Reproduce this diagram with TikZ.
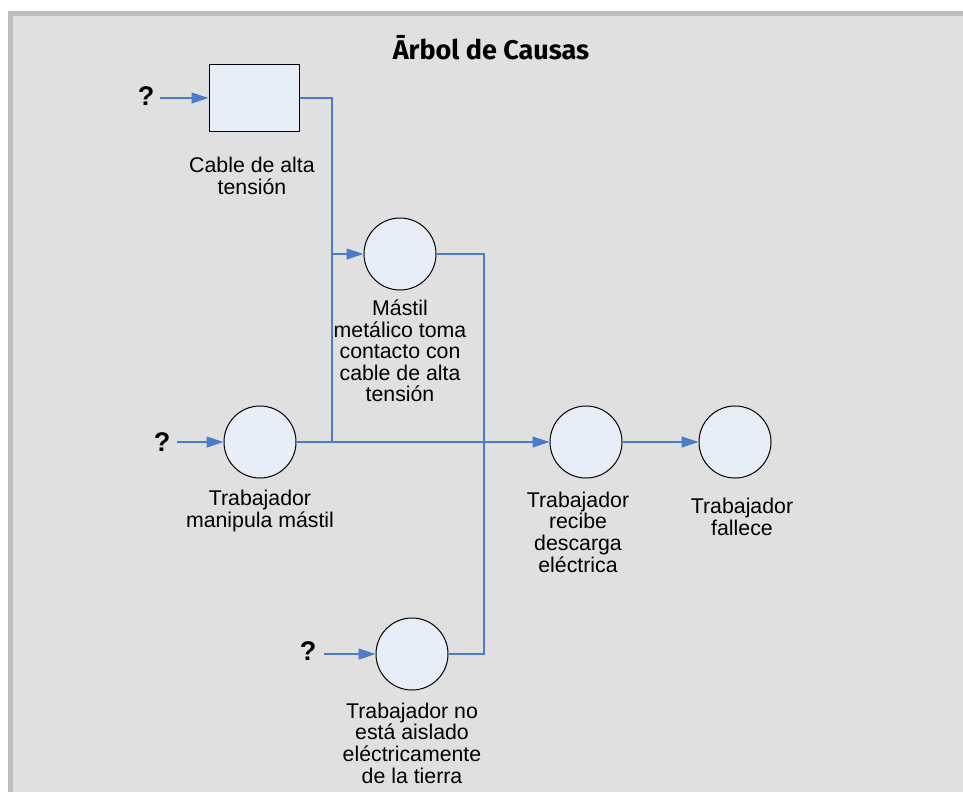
\documentclass[tikz,border=0pt]{standalone}
\usepackage{fontspec}
\setmainfont{Liberation Sans}
\newfontfamily\titlefont{Fira Sans}
\usetikzlibrary{arrows.meta}
\definecolor{bg}{HTML}{E0E0E0}
\definecolor{framegray}{HTML}{BDBDBD}
\definecolor{nodefill}{HTML}{E8EEF8}
\definecolor{conn}{HTML}{4A7CC9}
\begin{document}
\begin{tikzpicture}[x=1pt,y=-1pt,
  event/.style={circle,draw=black,line width=1pt,fill=nodefill,minimum size=72pt,inner sep=0pt},
  fact/.style={rectangle,draw=black,line width=1pt,fill=nodefill,minimum width=90pt,minimum height=66pt,inner sep=0pt},
  lbl/.style={align=center,font=\fontsize{21.3}{21.6}\selectfont,inner sep=0pt},
  qm/.style={font=\fontsize{27}{27}\bfseries\selectfont,inner sep=0pt},
  link/.style={draw=conn,line width=1.2pt},
  arr/.style={link,-{Triangle[length=17pt,width=11pt]}}]
\useasboundingbox (0,0) rectangle (963,792);
\fill[framegray] (8,11) rectangle (963,792);
\fill[bg] (13,16) rectangle (963,792);
\node[font=\titlefont\bfseries\fontsize{27}{27}\selectfont,inner sep=0pt] (title) at (491,48) {Ārbol de Causas};
% shapes
\node[fact] (cable) at (254,98) {};
\node[event] (mast) at (400,254) {};
\node[event] (man) at (260,442) {};
\node[event] (rec) at (586,442) {};
\node[event] (fal) at (735,442) {};
\node[event] (ais) at (412,654) {};
% labels
\node[lbl] (lcable) at (252,176) {Cable de alta\\tensión};
\node[lbl] (lmast) at (400,351) {Mástil\\metálico toma\\contacto con\\cable de alta\\tensión};
\node[lbl] (lman) at (260,511) {Trabajador\\manipula mástil};
\node[lbl] (lrec) at (578,532) {Trabajador\\recibe\\descarga\\eléctrica};
\node[lbl] (lfal) at (742,517) {Trabajador\\fallece};
\node[lbl] (lais) at (412,743) {Trabajador no\\está aislado\\eléctricamente\\de la tierra};
% question marks
\node[qm] (q1) at (146,96) {?};
\node[qm] (q2) at (162,442) {?};
\node[qm] (q3) at (308,651) {?};
\draw[arr] ([xshift=6pt]q1.east |- cable.west) -- (cable.west);
\draw[arr] ([xshift=7pt]q2.east |- man.west) -- (man.west);
\draw[arr] ([xshift=8pt]q3.east |- ais.west) -- (ais.west);
% junction coordinates
\coordinate (ja) at (332,442);
\coordinate (jm) at (332,254);
\coordinate (jb1) at (484,254);
\coordinate (jb2) at (484,654);
% connectors
\draw[link] (cable.east) -| (ja);
\draw[arr] (jm) -- (mast.west);
\draw[link] (mast.east) -- (jb1) -- (jb2) -- (ais.east);
\draw[arr] (man.east) -- (rec.west);
\draw[arr] (rec.east) -- (fal.west);
\end{tikzpicture}
\end{document}
